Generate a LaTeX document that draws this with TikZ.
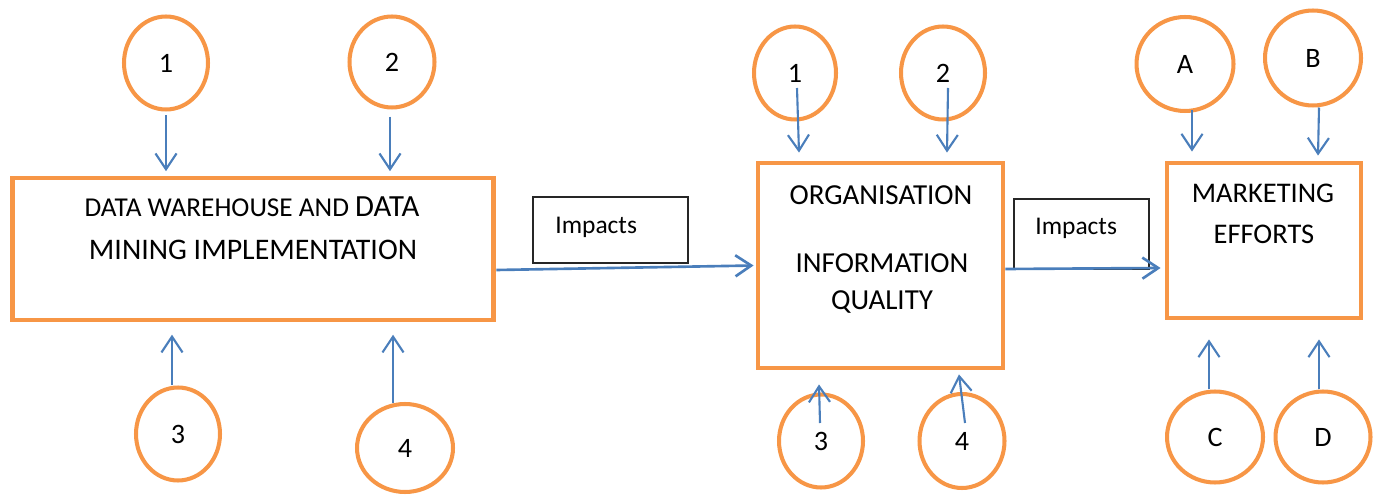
\documentclass[tikz,border=0pt]{standalone}
\usepackage{fontspec}
\setmainfont{Carlito}
\usepackage{tikz}
\usetikzlibrary{arrows.meta,positioning,shapes.geometric,calc}

\definecolor{boxorange}{HTML}{F79646}
\definecolor{linkblue}{HTML}{4A7EBB}

\tikzset{
  bigbox/.style={rectangle, draw=boxorange, line width=2.8pt, inner sep=0pt},
  impbox/.style={rectangle, draw=black!85, line width=0.7pt, inner sep=0pt},
  item/.style={ellipse, draw=boxorange, line width=2.3pt, inner sep=0pt,
    font=\fontsize{16}{18}\selectfont},
  feed/.style={draw=linkblue, line width=1.2pt,
    -{Straight Barb[length=9pt,width=12pt]}},
  link/.style={feed, line width=1.5pt},
  boxtext/.style={anchor=base, inner sep=0pt, font=\fontsize{16.5}{19}\selectfont},
  imptext/.style={anchor=base west, inner sep=0pt, font=\fontsize{14.5}{17}\selectfont}
}

\begin{document}
\begin{tikzpicture}[x=0.02cm, y=-0.02cm]
\useasboundingbox (0,0) rectangle (1382,496);
% the three blocks
\node[bigbox, minimum width=9.64cm, minimum height=2.84cm] (dw) at (253,249) {};
\node[bigbox, minimum width=4.9cm, minimum height=4.1cm] (oq) at (880.5,265.5) {};
\node[bigbox, minimum width=3.88cm, minimum height=3.1cm] (me) at (1264,240.5) {};
% block texts
\node[boxtext, font=\fontsize{17.5}{19}\selectfont] (dwtop) at (252,217) {{\fontsize{15.5}{17}\selectfont DATA WAREHOUSE AND }DATA};
\node[boxtext, font=\fontsize{17}{19}\selectfont] (dwbot) at (253,260) {MINING IMPLEMENTATION};
\node[boxtext] (oqtop) at (881,205) {ORGANISATION};
\node[boxtext] (oqmid) at (882,273) {INFORMATION};
\node[boxtext] (oqbot) at (882,310) {QUALITY};
\node[boxtext, font=\fontsize{16.2}{19}\selectfont] (metop) at (1263,203) {MARKETING};
\node[boxtext, font=\fontsize{16.2}{19}\selectfont] (mebot) at (1264,244) {EFFORTS};
% impact labels
\node[impbox, minimum width=3.1cm, minimum height=1.32cm] (imp1) at (610.5,230) {};
\node[imptext] (imp1text) at (555,234) {Impacts};
\node[impbox, minimum width=2.7cm, minimum height=1.4cm] (imp2) at (1081.5,234) {};
\node[imptext] (imp2text) at (1035,235) {Impacts};
% factors round the first block
\node[item, minimum width=1.68cm, minimum height=1.86cm] (l1) at (166,63) {1};
\node[item, minimum width=1.7cm, minimum height=1.82cm] (l2) at (392,62) {2};
\node[item, minimum width=1.68cm, minimum height=1.86cm] (l3) at (178,434) {3};
\node[item, minimum width=1.92cm, minimum height=1.76cm] (l4) at (405,448) {4};
% factors round the second block
\node[item, minimum width=1.64cm, minimum height=1.86cm] (m1) at (795,73) {1};
\node[item, minimum width=1.68cm, minimum height=1.86cm] (m2) at (943,73) {2};
\node[item, minimum width=1.68cm, minimum height=1.86cm] (m3) at (821,441) {3};
\node[item, minimum width=1.7cm, minimum height=1.88cm] (m4) at (962,441) {4};
% factors round the third block
\node[item, minimum width=1.94cm, minimum height=1.88cm] (fa) at (1185,64) {A};
\node[item, minimum width=1.92cm, minimum height=1.9cm] (fb) at (1313,58) {B};
\node[item, minimum width=1.92cm, minimum height=1.82cm] (fc) at (1215,437) {C};
\node[item, minimum width=1.9cm, minimum height=1.82cm] (fd) at (1323,437) {D};
% main flow
\draw[link] ($(dw.east)+(0,21)$) -- ($(oq.west)+(-2,0)$);
\draw[link] ($(oq.east)+(0,3.5)$) -- ($(me.west)+(-4,27.5)$);
% feeding arrows
\draw[feed, shorten <=2pt, shorten >=2.5pt] (l1.south) -- (l1.south |- dw.north);
\draw[feed, shorten <=4pt, shorten >=2.5pt] ($(l2.south)+(-2,0)$) -- ($(l2.south |- dw.north)+(-2,0)$);
\draw[feed, shorten >=7pt] ($(l3.north)+(-6,0)$) -- ($(l3.north |- dw.south)+(-6,0)$);
\draw[feed, shorten >=7pt] ($(l4.north)+(-12,1)$) -- ($(l4.north |- dw.south)+(-12,0)$);
\draw[feed] ($(m1)+(2,15)$) -- ($(m1 |- oq.north)+(4,-8)$);
\draw[feed] ($(m2)+(5,15)$) -- ($(m2 |- oq.north)+(4,-8)$);
\draw[feed] ($(m3)+(-1,-18)$) -- ($(m3 |- oq.south)+(-2,14)$);
\draw[feed] ($(m4)+(3,-18)$) -- ($(m4 |- oq.south)+(-3,4)$);
\draw[feed] ($(fa.south)+(7,-3)$) -- ($(fa.south |- me.north)+(7,-9)$);
\draw[feed] ($(fb.south)+(6,0)$) -- ($(fb.south |- me.north)+(5,-5)$);
\draw[feed] ($(fc.north)+(-6,0)$) -- ($(fc.north |- me.south)+(-6,19)$);
\draw[feed] ($(fd.north)+(-4,0)$) -- ($(fd.north |- me.south)+(-4,19)$);
\end{tikzpicture}
\end{document}
